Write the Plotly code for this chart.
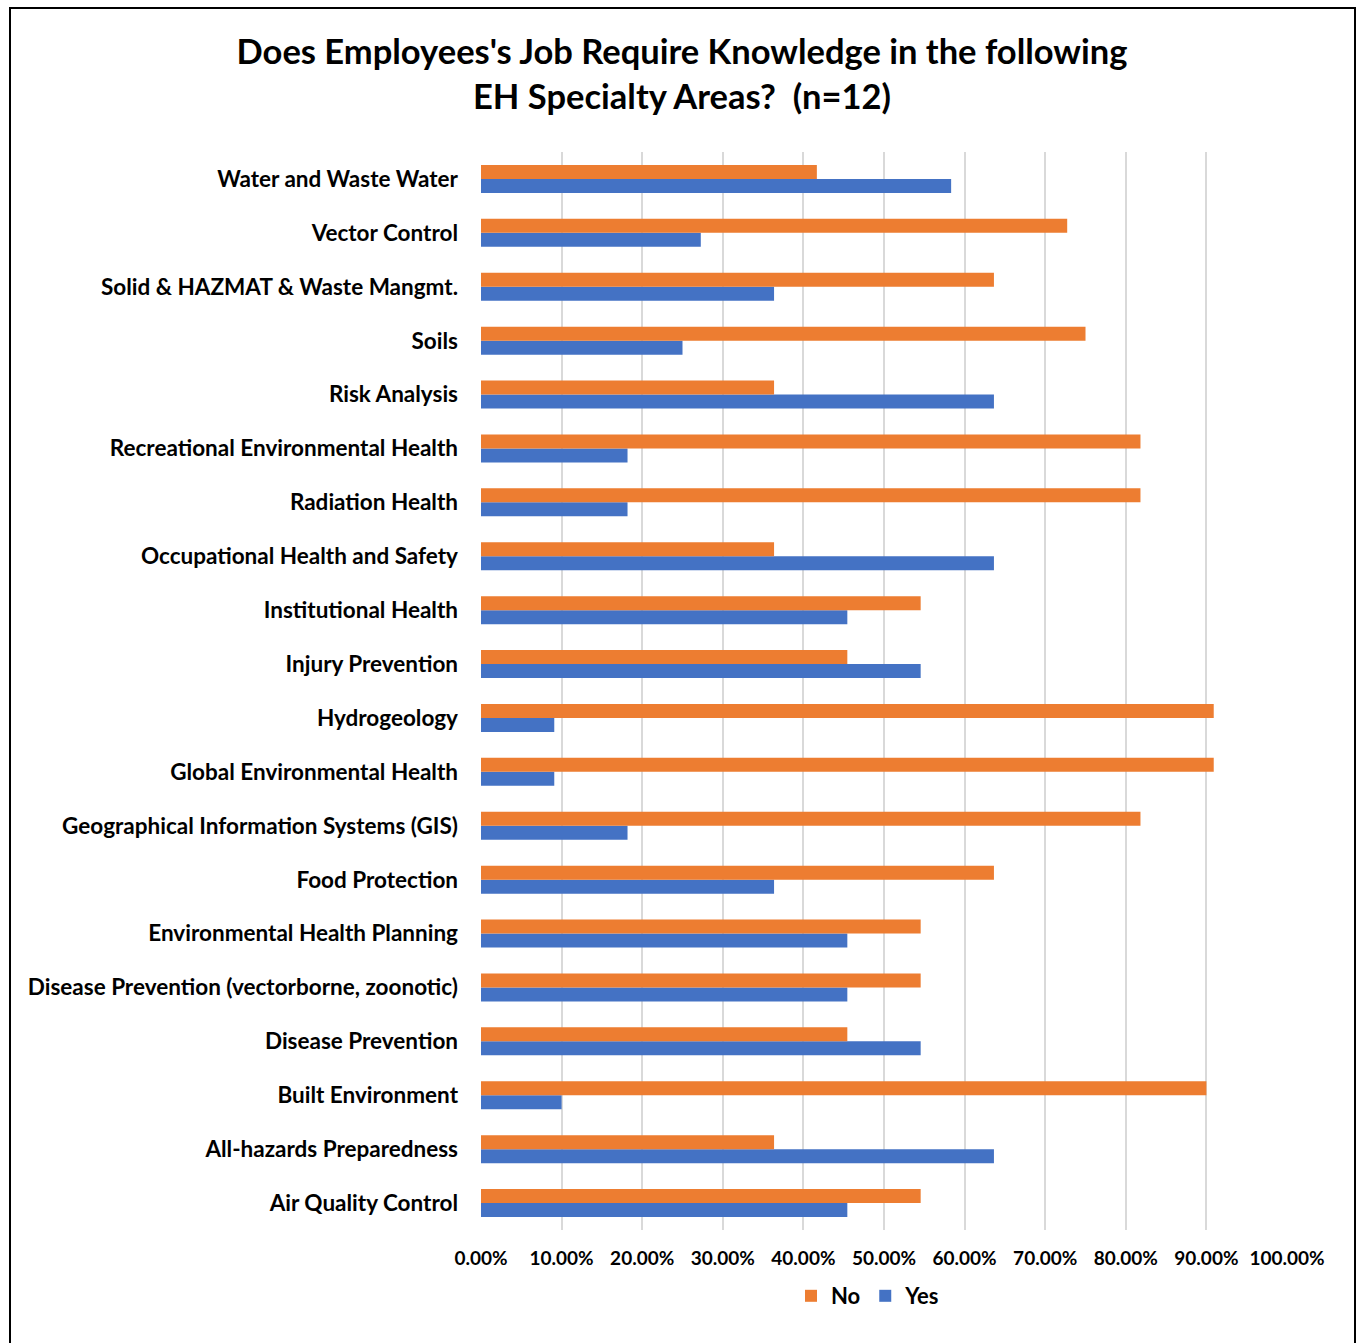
import plotly.graph_objects as go

# Specialty areas, listed bottom-to-top as they appear on the y axis
areas = [
    "Air Quality Control",
    "All-hazards Preparedness",
    "Built Environment",
    "Disease Prevention",
    "Disease Prevention (vectorborne, zoonotic)",
    "Environmental Health Planning",
    "Food Protection",
    "Geographical Information Systems (GIS)",
    "Global Environmental Health",
    "Hydrogeology",
    "Injury Prevention",
    "Institutional Health",
    "Occupational Health and Safety",
    "Radiation Health",
    "Recreational Environmental Health",
    "Risk Analysis",
    "Soils",
    "Solid & HAZMAT & Waste Mangmt.",
    "Vector Control",
    "Water and Waste Water",
]

no_share = [
    0.5455, 0.3636, 0.9000, 0.4545, 0.5455, 0.5455, 0.6364, 0.8182, 0.9091, 0.9091,
    0.4545, 0.5455, 0.3636, 0.8182, 0.8182, 0.3636, 0.7500, 0.6364, 0.7273, 0.4167,
]
yes_share = [
    0.4545, 0.6364, 0.1000, 0.5455, 0.4545, 0.4545, 0.3636, 0.1818, 0.0909, 0.0909,
    0.5455, 0.4545, 0.6364, 0.1818, 0.1818, 0.6364, 0.2500, 0.3636, 0.2727, 0.5833,
]

x_ticks = [i / 10 for i in range(11)]

FONT = "Lato"
ORANGE = "#ED7D31"
BLUE = "#4472C4"

fig = go.Figure()
fig.add_trace(go.Bar(
    y=areas, x=yes_share, name="Yes", orientation="h",
    marker=dict(color=BLUE, line=dict(width=0)),
))
fig.add_trace(go.Bar(
    y=areas, x=no_share, name="No", orientation="h",
    marker=dict(color=ORANGE, line=dict(width=0)),
))

W, H = 1359, 1343
L, R, T, B = 481, 72, 152, 113
pw, ph = W - L - R, H - T - B

def px_x(p):
    return (p - L) / pw

def px_y(p):
    return (H - B - p) / ph

fig.update_layout(
    width=W, height=H,
    margin=dict(l=L, r=R, t=T, b=B),
    paper_bgcolor="white", plot_bgcolor="white",
    barmode="group", bargap=0.48, bargroupgap=0,
    font=dict(family=FONT, color="black"),
    title=dict(
        text="<b>Does Employees's Job Require Knowledge in the following<br>EH Specialty Areas?  (n=12)</b>",
        x=682 / W, xanchor="center", xref="container",
        y=1 - 64 / H, yanchor="middle",
        font=dict(family=FONT, size=34.5, color="black"),
    ),
    xaxis=dict(
        range=[0, 1], tickvals=x_ticks, tickformat=".2%",
        showgrid=True, gridcolor="#D9D9D9", gridwidth=2,
        zeroline=False, showline=False, ticks="",
        tickfont=dict(family=FONT, size=19, color="black", weight="bold"),
        ticklabelstandoff=15,
    ),
    yaxis=dict(
        showgrid=False, zeroline=False, showline=False, ticks="",
        tickfont=dict(family=FONT, size=22.5, color="black", weight="bold"),
        ticklabelstandoff=22,
    ),
    legend=dict(
        orientation="h", traceorder="reversed",
        x=px_x(868), xanchor="center", y=px_y(1296), yanchor="middle",
        font=dict(family=FONT, size=22, color="black", weight="bold"),
        itemwidth=30, tracegroupgap=0,
    ),
    shapes=[dict(
        type="rect", xref="paper", yref="paper",
        x0=px_x(10), x1=px_x(1355), y0=px_y(1352), y1=px_y(8),
        line=dict(color="black", width=2), fillcolor="rgba(0,0,0,0)", layer="below",
    )],
)

fig.write_html("out.html")
